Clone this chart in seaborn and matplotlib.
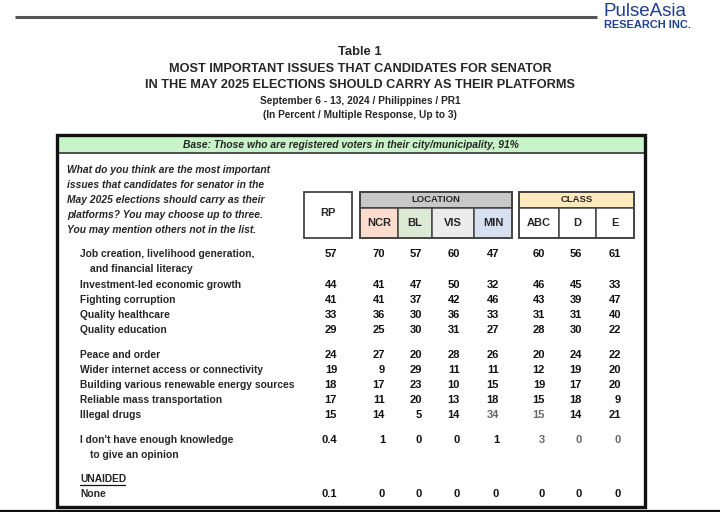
import matplotlib
matplotlib.use("Agg")
import matplotlib.pyplot as plt
from matplotlib.patches import Rectangle
import seaborn as sns

sns.set_theme(style="white")
plt.rcParams["font.family"] = ["Liberation Sans", "DejaVu Sans"]

# ---------------- data ----------------
title_lines = ["Table 1",
               "MOST IMPORTANT ISSUES THAT CANDIDATES FOR SENATOR",
               "IN THE MAY 2025 ELECTIONS SHOULD CARRY AS THEIR PLATFORMS"]
sub_lines = ["September 6 - 13, 2024 / Philippines / PR1",
             "(In Percent / Multiple Response, Up to 3)"]
base_text = "Base: Those who are registered voters in their city/municipality, 91%"
question = ["What do you think are the most important",
            "issues that candidates for senator in the",
            "May 2025 elections should carry as their",
            "platforms? You may choose up to three.",
            "You may mention others not in the list."]

issues = ["Job creation, livelihood generation,",
          "Investment-led economic growth",
          "Fighting corruption",
          "Quality healthcare",
          "Quality education",
          "Peace and order",
          "Wider internet access or connectivity",
          "Building various renewable energy sources",
          "Reliable mass transportation",
          "Illegal drugs",
          "I don't have enough knowledge",
          "None"]
issue_cont = {0: "and financial literacy", 10: "to give an opinion"}

columns = ["RP", "NCR", "BL", "VIS", "MIN", "ABC", "D", "E"]
RP  = ["57", "44", "41", "33", "29", "24", "19", "18", "17", "15", "0.4", "0.1"]
NCR = ["70", "41", "41", "36", "25", "27", "9", "17", "11", "14", "1", "0"]
BL  = ["57", "47", "37", "30", "30", "20", "29", "23", "20", "5", "0", "0"]
VIS = ["60", "50", "42", "36", "31", "28", "11", "10", "13", "14", "0", "0"]
MIN = ["47", "32", "46", "33", "27", "26", "11", "15", "18", "34", "1", "0"]
ABC = ["60", "46", "43", "31", "28", "20", "12", "19", "15", "15", "3", "0"]
D   = ["56", "45", "39", "31", "30", "24", "19", "17", "18", "14", "0", "0"]
E   = ["61", "33", "47", "40", "22", "22", "20", "20", "9", "21", "0", "0"]
values = [RP, NCR, BL, VIS, MIN, ABC, D, E]

# ---------------- layout ----------------
fig = plt.figure(figsize=(7.2, 5.12), dpi=100)
ax = fig.add_axes([0, 0, 1, 1])
ax.set_xlim(0, 720)
ax.set_ylim(512, 0)
ax.axis("off")

# header line + logo
ax.plot([15, 597], [17, 17], color="#555555", lw=2.2, solid_capstyle="butt")
ax.text(645, 12, "PulseAsia", ha="center", va="center", fontsize=13.5, color="#1f3f8f")
ax.text(647.5, 24.5, "RESEARCH INC.", ha="center", va="center", fontsize=7.9,
        color="#1f3f8f", fontweight="bold")

# titles
ax.text(360, 52, title_lines[0], ha="center", va="center", fontsize=9.4, fontweight="bold")
ax.text(360, 69, title_lines[1], ha="center", va="center", fontsize=9.2, fontweight="bold")
ax.text(360, 85, title_lines[2], ha="center", va="center", fontsize=9.2, fontweight="bold")
ax.text(360, 100.5, sub_lines[0], ha="center", va="center", fontsize=7.3, fontweight="bold")
ax.text(360, 114.5, sub_lines[1], ha="center", va="center", fontsize=7.3, fontweight="bold")

# outer frame and base band
ax.add_patch(Rectangle((57, 136), 588, 17, facecolor="#c9f3c9", edgecolor="none", zorder=1))
ax.plot([57, 645], [153, 153], color="#333333", lw=1.2, zorder=2)
ax.add_patch(Rectangle((57, 135), 588, 372, facecolor="none", edgecolor="#111111", lw=2.4, zorder=3))
ax.plot([0, 720], [510.5, 510.5], color="#111111", lw=1.6)
ax.text(351, 144.5, base_text, ha="center", va="center", fontsize=7.4,
        fontweight="bold", style="italic")

for i, line in enumerate(question):
    ax.text(67, 170 + 15 * i, line, ha="left", va="center", fontsize=7.4,
            fontweight="bold", style="italic")

# column header boxes
edge = "#444444"
ax.add_patch(Rectangle((304, 192), 48, 46, facecolor="white", edgecolor=edge, lw=1.3))
ax.text(328, 213, "RP", ha="center", va="center", fontsize=8, fontweight="bold")

loc_cells = [("NCR", 360, 398, "#fbdccd"), ("BL", 398, 432, "#dce9d5"),
             ("VIS", 432, 474, "#ececec"), ("MIN", 474, 512, "#d6e0f1")]
ax.add_patch(Rectangle((360, 192), 152, 16, facecolor="#c8c8c8", edgecolor=edge, lw=1.3))
ax.text(436, 200, "LOCATION", ha="center", va="center", fontsize=6.8, fontweight="bold")
for lab, x0, x1, c in loc_cells:
    ax.add_patch(Rectangle((x0, 208), x1 - x0, 30, facecolor=c, edgecolor=edge, lw=1.1))
    ax.text((x0 + x1) / 2, 223, lab, ha="center", va="center", fontsize=8, fontweight="bold")
ax.add_patch(Rectangle((360, 192), 152, 46, facecolor="none", edgecolor=edge, lw=1.3))

cls_cells = [("ABC", 519, 559), ("D", 559, 596), ("E", 596, 634)]
ax.add_patch(Rectangle((519, 192), 115, 16, facecolor="#fde9bb", edgecolor=edge, lw=1.3))
ax.text(576.5, 200, "CLASS", ha="center", va="center", fontsize=6.8, fontweight="bold")
for lab, x0, x1 in cls_cells:
    ax.add_patch(Rectangle((x0, 208), x1 - x0, 30, facecolor="white", edgecolor=edge, lw=1.1))
    ax.text((x0 + x1) / 2, 223, lab, ha="center", va="center", fontsize=8, fontweight="bold")
ax.add_patch(Rectangle((519, 192), 115, 46, facecolor="none", edgecolor=edge, lw=1.3))

# rows
row_y = [254, 285, 300, 315, 330, 355, 370, 385, 400, 415, 440, 494]
col_right = [337, 385, 422, 460, 499, 545, 582, 621]
grey_cells = {(4, 9), (5, 9), (5, 10), (6, 10), (7, 10)}

for r, (lab, y) in enumerate(zip(issues, row_y)):
    ax.text(80, y, lab, ha="left", va="center", fontsize=7.4, fontweight="bold")
    if r in issue_cont:
        ax.text(90, y + 15, issue_cont[r], ha="left", va="center", fontsize=7.4, fontweight="bold")
    for c, (xr, col) in enumerate(zip(col_right, values)):
        color = "#666666" if (c, r) in grey_cells else "#111111"
        ax.text(xr, y, col[r], ha="right", va="center", fontsize=8,
                fontweight="bold", color=color)

ax.text(80, 479, "UNAIDED", ha="left", va="center", fontsize=7.4, fontweight="bold")
ax.plot([80, 125], [485, 485], color="#111111", lw=0.9)

fig.savefig("out.png", dpi=100)
